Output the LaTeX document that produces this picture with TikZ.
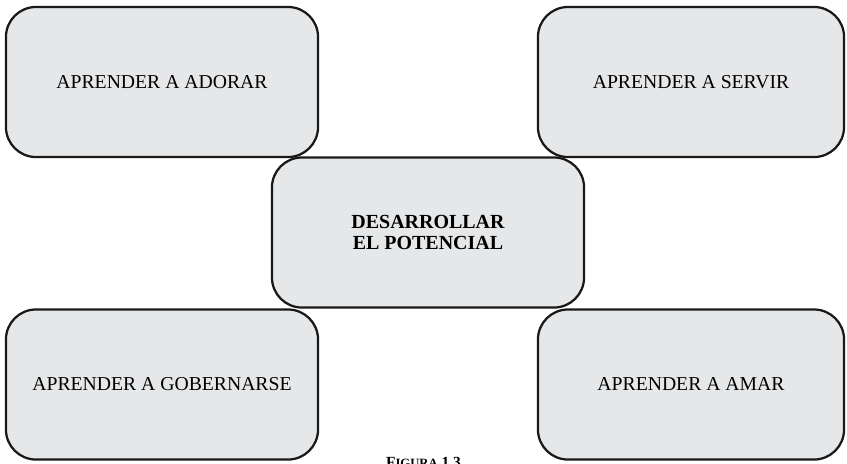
\documentclass[tikz,border=0pt]{standalone}
\usepackage{fontspec}
\setmainfont{Liberation Serif}
\definecolor{gris}{HTML}{E6E7E9}
\tikzset{
  caja/.style={draw=black!90, line width=1.6pt, fill=gris, rounded corners=0.75cm,
    minimum width=7.8cm, minimum height=3.75cm, align=center,
    font=\fontsize{14}{16}\selectfont},
  centro/.style={caja, font=\fontsize{14.2}{14.6}\selectfont\bfseries}
}
\begin{document}
\begin{tikzpicture}[x=0.025cm, y=-0.025cm]
  \useasboundingbox (0,0) rectangle (847,463);
  % cuatro cajas
  \node[caja] (adorar) at (162,82) {APRENDER A ADORAR};
  \node[caja, minimum width=7.65cm] (servir) at (691,82) {APRENDER A SERVIR};
  \node[caja] (gobernar) at (162,384.5) {APRENDER A GOBERNARSE};
  \node[caja, minimum width=7.65cm] (amar) at (691,384.5) {APRENDER A AMAR};
  % caja central
  \node[centro] (potencial) at (428,232.5) {DESARROLLAR\\EL POTENCIAL};
  % pie (cortado)
  \node[anchor=base, font=\fontsize{11}{13}\selectfont\bfseries] (pie) at (423.5,467) {F{\fontsize{9}{11}\selectfont IGURA} 1.3};
\end{tikzpicture}
\end{document}
